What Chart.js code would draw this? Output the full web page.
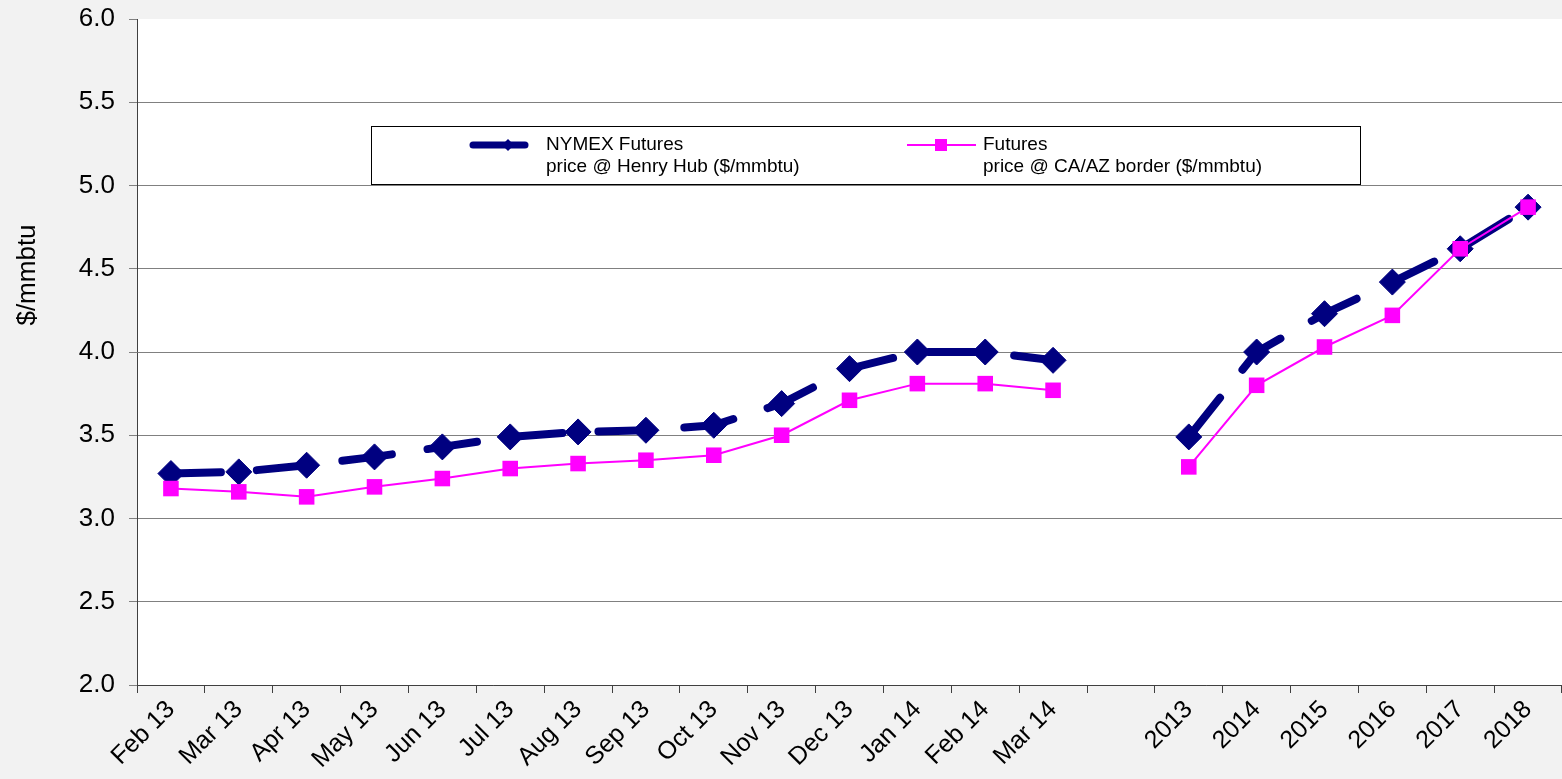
<!DOCTYPE html>
<html>
<head>
<meta charset="utf-8">
<script src="https://cdn.jsdelivr.net/npm/chart.js@4.4.1/dist/chart.umd.min.js"></script>
<style>
    html, body { margin: 0; padding: 0; background: #f2f2f2; overflow: hidden; }
    /* 14px wider than the window: Chart.js keeps that much room right of the axis for the rotated last label */
    #contenedor { width: 1576px; height: 779px; position: relative; }
</style>
</head>
<body>
<div id="contenedor"><canvas id="grafico"></canvas></div>
<script>
// Categories: monthly strip, one empty slot, then calendar years
const categorias = ['Feb 13', 'Mar 13', 'Apr 13', 'May 13', 'Jun 13', 'Jul 13', 'Aug 13',
    'Sep 13', 'Oct 13', 'Nov 13', 'Dec 13', 'Jan 14', 'Feb 14', 'Mar 14', '',
    '2013', '2014', '2015', '2016', '2017', '2018'];

const henryHub = [3.27, 3.28, 3.32, 3.37, 3.43, 3.49, 3.52, 3.53, 3.56, 3.69, 3.90, 4.00, 4.00, 3.95, null,
    3.49, 4.00, 4.23, 4.42, 4.62, 4.87];

const caAzBorder = [3.18, 3.16, 3.13, 3.19, 3.24, 3.30, 3.33, 3.35, 3.38, 3.50, 3.71, 3.81, 3.81, 3.77, null,
    3.31, 3.80, 4.03, 4.22, 4.62, 4.87];

const leyendaHenry = ['NYMEX Futures', 'price @ Henry Hub ($/mmbtu)'];
const leyendaCaAz = ['Futures', 'price @ CA/AZ border ($/mmbtu)'];
const tituloEjeY = '$/mmbtu';

const AZUL = '#000080';
const MAGENTA = '#ff00ff';
const FUENTE = '"Liberation Sans", Arial, sans-serif';

// White plot area over the grey page
const fondoPlot = {
    id: 'fondoPlot',
    beforeDraw(chart) {
        const { ctx, chartArea: a } = chart;
        ctx.save();
        ctx.fillStyle = '#ffffff';
        ctx.fillRect(a.left, a.top, a.right - a.left, a.bottom - a.top);
        ctx.restore();
    }
};

// Axis title sits above the middle of the axis in the original
const tituloY = {
    id: 'tituloY',
    afterDraw(chart) {
        const ctx = chart.ctx;
        ctx.save();
        ctx.translate(28, 275);
        ctx.rotate(-Math.PI / 2);
        ctx.fillStyle = '#000000';
        ctx.font = '26px ' + FUENTE;
        ctx.textAlign = 'center';
        ctx.textBaseline = 'middle';
        ctx.fillText(tituloEjeY, 0, 0);
        ctx.restore();
    }
};

// Boxed legend inside the plot, two lines per entry
const leyendaCaja = {
    id: 'leyendaCaja',
    afterDraw(chart) {
        const ctx = chart.ctx;
        ctx.save();
        ctx.fillStyle = '#ffffff';
        ctx.fillRect(371, 126, 989, 58);
        ctx.strokeStyle = '#000000';
        ctx.lineWidth = 1;
        ctx.strokeRect(371.5, 126.5, 989, 58);

        // navy sample
        ctx.strokeStyle = AZUL;
        ctx.lineWidth = 7;
        ctx.lineCap = 'round';
        ctx.beginPath();
        ctx.moveTo(473, 145);
        ctx.lineTo(525, 145);
        ctx.stroke();
        ctx.fillStyle = AZUL;
        ctx.beginPath();
        ctx.moveTo(508, 139);
        ctx.lineTo(514, 145);
        ctx.lineTo(508, 151);
        ctx.lineTo(502, 145);
        ctx.closePath();
        ctx.fill();

        // magenta sample
        ctx.strokeStyle = MAGENTA;
        ctx.lineWidth = 2;
        ctx.lineCap = 'butt';
        ctx.beginPath();
        ctx.moveTo(907, 145);
        ctx.lineTo(976, 145);
        ctx.stroke();
        ctx.fillStyle = MAGENTA;
        ctx.fillRect(935, 139, 12, 12);

        ctx.fillStyle = '#000000';
        ctx.font = '19px ' + FUENTE;
        ctx.textBaseline = 'middle';
        ctx.textAlign = 'left';
        ctx.fillText(leyendaHenry[0], 546, 145);
        ctx.fillText(leyendaHenry[1], 546, 167);
        ctx.fillText(leyendaCaAz[0], 983, 145);
        ctx.fillText(leyendaCaAz[1], 983, 167);
        ctx.restore();
    }
};

const config = {
    type: 'line',
    data: {
        labels: categorias,
        datasets: [
            {
                label: leyendaHenry.join(' '),
                data: henryHub,
                borderColor: AZUL,
                backgroundColor: AZUL,
                borderWidth: 8,
                borderDash: [50, 36],
                borderCapStyle: 'round',
                pointStyle: 'rectRot',
                pointRadius: 13,
                pointBorderWidth: 1,
                pointBackgroundColor: AZUL,
                pointBorderColor: AZUL,
                spanGaps: false,
                tension: 0,
                order: 2
            },
            {
                label: leyendaCaAz.join(' '),
                data: caAzBorder,
                borderColor: MAGENTA,
                backgroundColor: MAGENTA,
                borderWidth: 2,
                pointStyle: 'rect',
                pointRadius: 11,
                pointBorderWidth: 0,
                pointBackgroundColor: MAGENTA,
                spanGaps: false,
                tension: 0,
                order: 1
            }
        ]
    },
    options: {
        responsive: true,
        maintainAspectRatio: false,
        animation: false,
        layout: { padding: { top: 19, right: 0, left: 0, bottom: 0 } },
        plugins: {
            legend: { display: false },
            tooltip: { enabled: false }
        },
        scales: {
            x: {
                offset: true,
                grid: {
                    offset: true,
                    drawOnChartArea: false,
                    drawTicks: true,
                    tickLength: 8,
                    color: '#404040'
                },
                border: { color: '#404040', width: 1 },
                ticks: {
                    autoSkip: false,
                    minRotation: 45,
                    maxRotation: 45,
                    padding: 2,
                    color: '#000000',
                    font: { family: FUENTE, size: 25 }
                },
                afterFit(scale) { scale.height = 94; }
            },
            y: {
                min: 2,
                max: 6,
                ticks: {
                    stepSize: 0.5,
                    padding: 14,
                    color: '#000000',
                    font: { family: FUENTE, size: 26 },
                    callback: v => v.toFixed(1)
                },
                grid: {
                    color: ctx => (ctx.tick && ctx.tick.value === 6) ? 'rgba(0,0,0,0)' : '#808080',
                    tickColor: '#808080',
                    tickLength: 8,
                    lineWidth: 1
                },
                border: { color: '#404040', width: 1 },
                afterFit(scale) {
                    scale.width = 137;
                    scale.paddingTop = 0;
                    scale.paddingBottom = 0;
                }
            }
        }
    },
    plugins: [fondoPlot, tituloY, leyendaCaja]
};

new Chart(document.getElementById('grafico'), config);
</script>
</body>
</html>
